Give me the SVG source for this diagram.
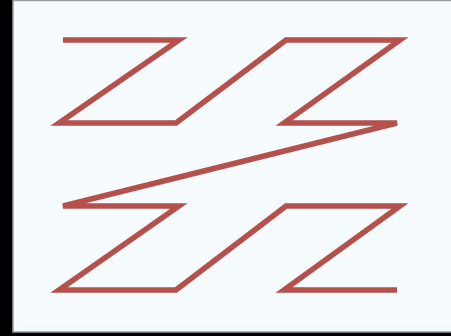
<svg xmlns="http://www.w3.org/2000/svg" width="451" height="336" viewBox="0 0 451 336">
<style>
.zig{fill:none;stroke:#b5504b;stroke-width:5.5;stroke-linejoin:miter;stroke-miterlimit:4}
</style>
<rect x="0" y="0" width="451" height="336" fill="#000"/>
<rect x="13" y="0.5" width="445" height="331.5" fill="#f5fbfe" stroke="#9a9fa0" stroke-width="1.5"/>
<g id="connectors">
<polyline class="zig" points="63,40 179,40 59,123 176,123 286,40 400,40 284,123 397,123 63,206 179,206 59,290 176,290 286,206 400,206 284,290 397,290"/>
</g>
</svg>
